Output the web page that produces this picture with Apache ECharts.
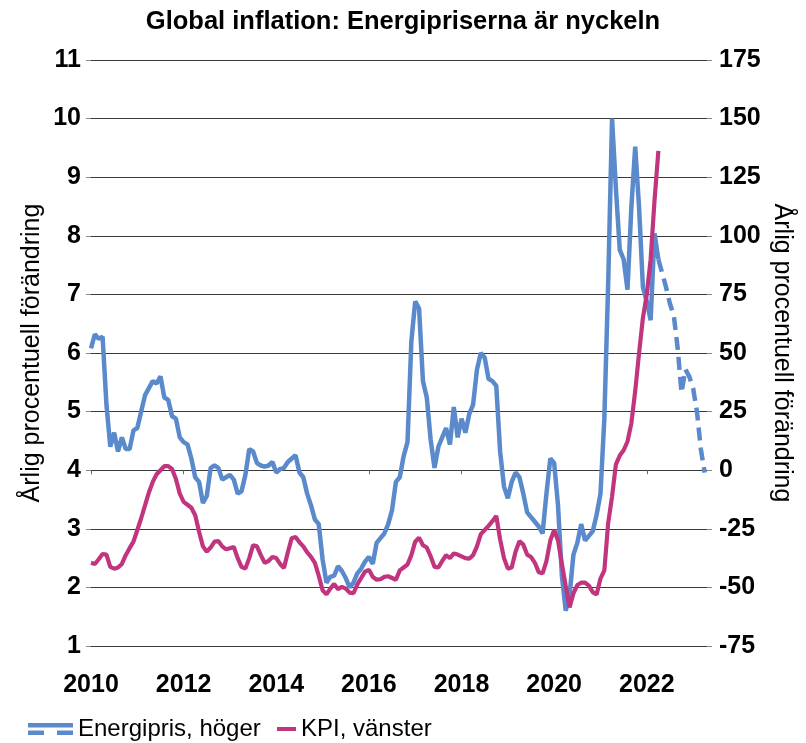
<!DOCTYPE html>
<html>
<head>
<meta charset="utf-8">
<script src="https://cdn.jsdelivr.net/npm/echarts@6/dist/echarts.min.js"></script>
<style>
  html, body { margin: 0; padding: 0; background: #fff; }
  #chart { width: 806px; height: 743px; }
</style>
</head>
<body>
<div id="chart"></div>
<script>
// månadsdata från jan 2010
var startYear = 2010;

// Energipris, årlig förändring i procent (höger axel)
var energipris = [52, 58, 56, 57, 28, 10, 16, 8, 14, 9, 9, 17, 18, 25, 32, 35, 38, 37, 40, 31,
  30, 23, 22, 14, 12, 11, 5, -3, -5, -14, -11, 1, 2, 1, -4, -3, -2, -4, -10, -9,
  -2, 9, 8, 3, 2, 1.5, 2, 3.5, -1, 0.5, 1, 3.5, 5, 6.4, -1, -3, -10, -15, -21, -23,
  -38, -48, -45.5, -45, -41, -43, -46, -50, -48, -44, -42, -39, -37, -40, -31, -29, -27, -23, -17, -5,
  -3, 6, 12, 55, 72, 69, 38, 31, 13, 1, 10, 14, 18, 11, 27, 14, 22, 16, 24, 28,
  43, 50, 48, 39, 38, 36, 8, -7, -12, -5, -1, -3, -10, -18, -20, -22, -24, -27, -10, 5,
  3, -15, -45, -60, -53, -36, -31, -23, -30, -28, -26, -19, -10, 22, 80, 150, 120, 94, 90, 77,
  112, 138, 112, 78, 72, 64, 101, 90];

// prognos (streckad), börjar i sista utfallsmånaden
var prognosStart = 147;
var prognos = [90, 84, 78, 71, 66, 52, 33, 43, 40, 35, 25, 9, -1];

// KPI, årlig förändring i procent (vänster axel)
var kpi = [2.42, 2.40, 2.48, 2.57, 2.56, 2.35, 2.32, 2.34, 2.40, 2.55, 2.67, 2.78, 2.98, 3.18, 3.40, 3.62, 3.80, 3.93, 4.00, 4.07,
  4.07, 4.02, 3.85, 3.60, 3.46, 3.41, 3.36, 3.23, 2.95, 2.70, 2.61, 2.68, 2.78, 2.79, 2.70, 2.65, 2.67, 2.69, 2.50, 2.35,
  2.32, 2.50, 2.72, 2.70, 2.55, 2.42, 2.45, 2.52, 2.50, 2.40, 2.33, 2.60, 2.84, 2.86, 2.77, 2.70, 2.60, 2.52, 2.42, 2.20,
  1.95, 1.88, 1.98, 2.06, 1.97, 2.01, 1.98, 1.91, 1.90, 2.05, 2.16, 2.27, 2.30, 2.18, 2.13, 2.14, 2.18, 2.19, 2.16, 2.13,
  2.29, 2.34, 2.39, 2.55, 2.78, 2.85, 2.72, 2.68, 2.53, 2.35, 2.34, 2.45, 2.55, 2.50, 2.58, 2.56, 2.53, 2.50, 2.49, 2.55,
  2.70, 2.91, 2.98, 3.05, 3.13, 3.22, 2.82, 2.50, 2.32, 2.34, 2.61, 2.79, 2.73, 2.56, 2.52, 2.42, 2.26, 2.24, 2.45, 2.80,
  2.98, 2.80, 2.40, 2.02, 1.66, 1.90, 2.04, 2.08, 2.08, 2.03, 1.92, 1.88, 2.15, 2.29, 3.10, 3.55, 4.10, 4.25, 4.34, 4.49,
  4.80, 5.35, 6.00, 6.60, 7.00, 7.60, 8.60, 9.45];

var yearTicks = [2010, 2012, 2014, 2016, 2018, 2020, 2022];

var blue = '#5a8acb';
var pink = '#c1357f';
var font = 'Liberation Sans, Arial, sans-serif';

function toPoints(arr, offset) {
  return arr.map(function (v, i) { return [startYear + (i + offset) / 12, v]; });
}

var myChart = echarts.init(document.getElementById('chart'));

var option = {
  backgroundColor: '#fff',
  animation: false,
  textStyle: { fontFamily: font },
  title: {
    text: 'Global inflation: Energipriserna är nyckeln',
    left: 'center',
    top: 4,
    textStyle: { fontSize: 25.5, fontWeight: 'bold', color: '#000', fontFamily: font }
  },
  legend: [
    {
      data: ['Energipris, höger'],
      left: 23,
      top: 712,
      itemWidth: 45,
      itemHeight: 12,
      symbolKeepAspect: false,
      icon: 'path://M0,0H45V4.5H0Z M0,7.5H16V12H0Z M29,7.5H45V12H29Z',
      textStyle: { fontSize: 24, color: '#000', fontFamily: font }
    },
    {
      data: ['KPI, vänster'],
      left: 272,
      top: 712,
      itemWidth: 19,
      itemHeight: 4,
      icon: 'rect',
      textStyle: { fontSize: 24, color: '#000', fontFamily: font }
    }
  ],
  grid: { left: 91, right: 99, top: 60, bottom: 97 },
  xAxis: {
    type: 'value',
    min: 2010,
    max: 2023.3,
    offset: 17,
    axisLine: { show: false },
    splitLine: { show: false },
    axisTick: { show: true, length: 4, customValues: yearTicks, lineStyle: { color: '#666' } },
    axisLabel: {
      customValues: yearTicks,
      margin: 10,
      fontSize: 25,
      fontWeight: 'bold',
      color: '#000',
      formatter: function (v) { return String(Math.round(v)); }
    }
  },
  yAxis: [
    {
      type: 'value',
      min: 1,
      max: 11,
      interval: 1,
      name: 'Årlig procentuell förändring',
      nameLocation: 'middle',
      nameMoveOverlap: false,
      nameGap: 46,
      nameTextStyle: { fontSize: 25, color: '#000', fontFamily: font },
      axisLine: { show: false },
      axisTick: { show: true, length: 5, lineStyle: { color: '#888' } },
      axisLabel: { fontSize: 25, fontWeight: 'bold', color: '#000', margin: 10 },
      splitLine: { lineStyle: { color: '#3a3a3a', width: 1 } }
    },
    {
      type: 'value',
      min: -75,
      max: 175,
      interval: 25,
      position: 'right',
      name: 'Årlig procentuell förändring',
      nameLocation: 'middle',
      nameMoveOverlap: false,
      nameRotate: -90,
      nameGap: 62,
      nameTextStyle: { fontSize: 25, color: '#000', fontFamily: font },
      axisLine: { show: false },
      axisTick: { show: true, length: 5, lineStyle: { color: '#888' } },
      axisLabel: { fontSize: 25, fontWeight: 'bold', color: '#000', margin: 12 },
      splitLine: { show: false }
    }
  ],
  series: [
    {
      name: 'Energipris, höger',
      type: 'line',
      yAxisIndex: 1,
      showSymbol: false,
      symbol: 'none',
      lineStyle: { color: blue, width: 4.5 },
      itemStyle: { color: blue },
      data: toPoints(energipris, 0),
      z: 2
    },
    {
      name: 'Energipris prognos',
      type: 'line',
      yAxisIndex: 1,
      showSymbol: false,
      symbol: 'none',
      lineStyle: { color: blue, width: 4.5, type: [13, 7] },
      itemStyle: { color: blue },
      data: toPoints(prognos, prognosStart),
      z: 2
    },
    {
      name: 'KPI, vänster',
      type: 'line',
      yAxisIndex: 0,
      showSymbol: false,
      symbol: 'none',
      lineStyle: { color: pink, width: 4.2 },
      itemStyle: { color: pink },
      data: toPoints(kpi, 0),
      z: 3
    }
  ]
};

myChart.setOption(option);
</script>
</body>
</html>
